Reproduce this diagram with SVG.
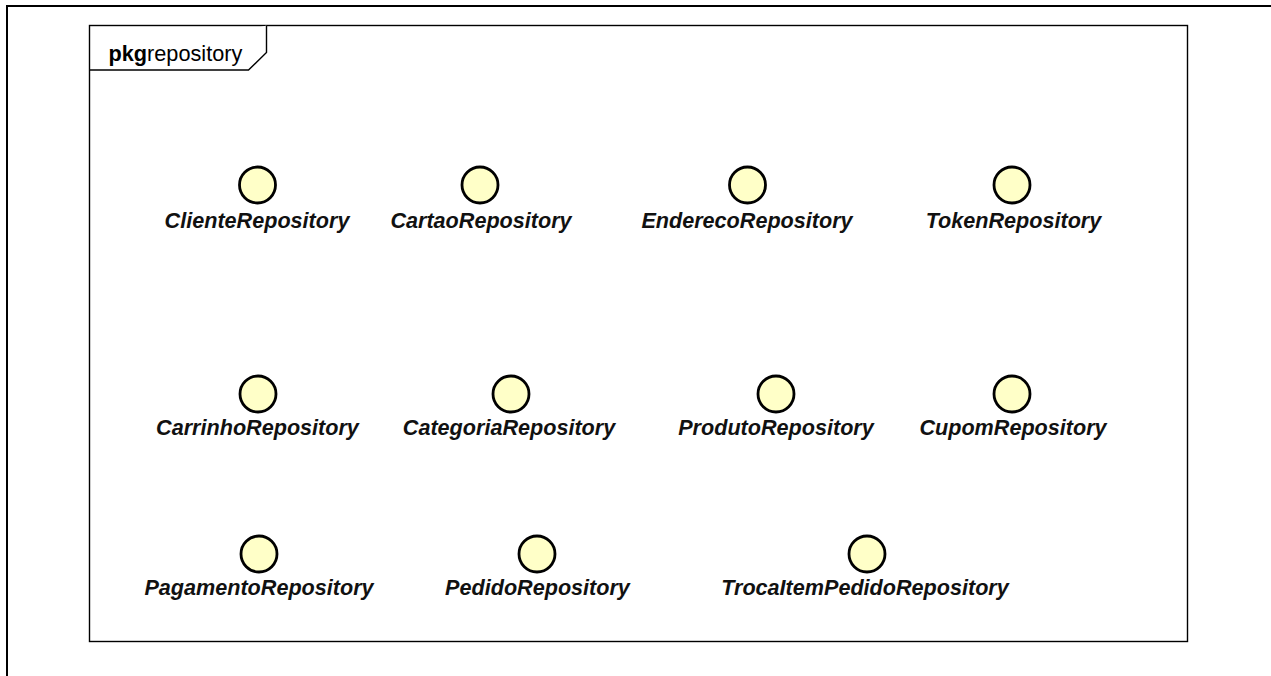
<svg xmlns="http://www.w3.org/2000/svg" width="1271" height="676" viewBox="0 0 1271 676">
  <style>
    .frame { fill: none; stroke: #000; stroke-width: 2; }
    .pkg { fill: #fff; stroke: #000; stroke-width: 1.4; }
    .pkgtab { fill: #fff; stroke: #000; stroke-width: 1.4; stroke-linejoin: miter; }
    .pkgtext { font-family: "Liberation Sans", Arial, sans-serif; font-size: 21.7px; fill: #000; }
    .iface circle { fill: #ffffc8; stroke: #000; stroke-width: 2.8; }
    .iface text { font-family: "Liberation Sans", Arial, sans-serif; font-size: 21.6px; font-weight: bold; font-style: italic; fill: #111; text-anchor: middle; }
  </style>

  <rect width="1271" height="676" fill="#fff"/>

  <!-- outer diagram frame (top and left edges) -->
  <path class="frame" d="M7,676 V6 H1271"/>

  <!-- package frame -->
  <g id="pkg-repository">
    <rect class="pkg" x="89.5" y="25.5" width="1098" height="616"/>
    <path class="pkgtab" d="M89.5,70 H248.5 L266.5,52.5 V25.5"/>
    <text class="pkgtext" x="108.5" y="61"><tspan font-weight="bold">pkg</tspan>repository</text>
  </g>

  <!-- interfaces, row 1 -->
  <g id="ClienteRepository" class="iface">
    <circle cx="257.5" cy="185" r="18"/>
    <text x="257" y="228">ClienteRepository</text>
  </g>
  <g id="CartaoRepository" class="iface">
    <circle cx="480" cy="185" r="18"/>
    <text x="481" y="228">CartaoRepository</text>
  </g>
  <g id="EnderecoRepository" class="iface">
    <circle cx="747.5" cy="185" r="18"/>
    <text x="747" y="228">EnderecoRepository</text>
  </g>
  <g id="TokenRepository" class="iface">
    <circle cx="1012" cy="185" r="18"/>
    <text x="1013.5" y="228">TokenRepository</text>
  </g>

  <!-- interfaces, row 2 -->
  <g id="CarrinhoRepository" class="iface">
    <circle cx="258" cy="394" r="18"/>
    <text x="257.5" y="435">CarrinhoRepository</text>
  </g>
  <g id="CategoriaRepository" class="iface">
    <circle cx="511" cy="394" r="18"/>
    <text x="509" y="435">CategoriaRepository</text>
  </g>
  <g id="ProdutoRepository" class="iface">
    <circle cx="776" cy="394" r="18"/>
    <text x="776" y="435">ProdutoRepository</text>
  </g>
  <g id="CupomRepository" class="iface">
    <circle cx="1012" cy="394" r="18"/>
    <text x="1013" y="435">CupomRepository</text>
  </g>

  <!-- interfaces, row 3 -->
  <g id="PagamentoRepository" class="iface">
    <circle cx="259" cy="554" r="18"/>
    <text x="259" y="595">PagamentoRepository</text>
  </g>
  <g id="PedidoRepository" class="iface">
    <circle cx="537" cy="554" r="18"/>
    <text x="537.5" y="595">PedidoRepository</text>
  </g>
  <g id="TrocaItemPedidoRepository" class="iface">
    <circle cx="867" cy="554" r="18"/>
    <text x="865" y="595">TrocaItemPedidoRepository</text>
  </g>

  <!-- no connectors in this package view -->
  <g id="connectors"/>
</svg>
